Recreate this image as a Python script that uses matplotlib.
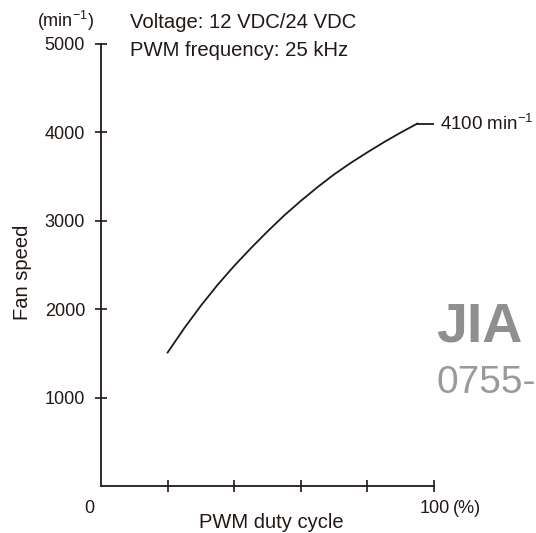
import matplotlib
matplotlib.use("Agg")
import matplotlib.pyplot as plt

# fan speed vs PWM duty cycle
duty = [20, 25, 30, 35, 40, 45, 50, 55, 60, 65, 70, 75, 80, 85, 90, 95]
speed = [1510, 1785, 2040, 2275, 2490, 2690, 2880, 3060, 3225, 3380, 3525, 3655,
         3775, 3890, 3998, 4100]
max_speed = 4100

y_ticks = [1000, 2000, 3000, 4000, 5000]
x_ticks = [20, 40, 60, 80, 100]

ink = "#231815"
sans = ["Liberation Sans", "DejaVu Sans"]

plt.rcParams["font.family"] = sans
plt.rcParams["mathtext.fontset"] = "custom"
plt.rcParams["mathtext.rm"] = "Liberation Sans"
plt.rcParams["mathtext.it"] = "Liberation Sans"

W, H = 536, 533
fig = plt.figure(figsize=(W / 100, H / 100), dpi=100)
ax = fig.add_axes([101 / W, 1 - 486 / H, 333 / W, 442 / H])

ax.plot(duty, speed, color=ink, lw=1.3, solid_joinstyle="round")
# leader line to the max-speed label
ax.plot([duty[-1], 100], [max_speed, max_speed], color=ink, lw=1.3)
ax.text(101.9, max_speed, f"{max_speed} min$^{{-1}}$", fontsize=13.5, color=ink,
        va="center", ha="left", clip_on=False)

ax.set_xlim(0, 100)
ax.set_ylim(0, 5000)
for s in ["top", "right"]:
    ax.spines[s].set_visible(False)
for s in ["left", "bottom"]:
    ax.spines[s].set_color(ink)
    ax.spines[s].set_linewidth(1.3)

ax.set_yticks(y_ticks)
ax.set_yticklabels([str(v) for v in y_ticks], fontsize=13, color=ink)
ax.set_xticks(x_ticks)
ax.set_xticklabels([])
ax.tick_params(axis="both", direction="inout", length=9, width=1.2, color=ink)
ax.tick_params(axis="y", pad=7)

# axis end labels
ax.text(-3.6, -260, "0", fontsize=13, color=ink, ha="center", va="center",
        clip_on=False)
ax.text(100.2, -260, "100", fontsize=13, color=ink, ha="center", va="center",
        clip_on=False)
ax.text(105.7, -260, "(%)", fontsize=13, color=ink, ha="left", va="center",
        clip_on=False)
ax.text(-10.8, 5265, "(min$^{-1}$)", fontsize=13, color=ink, ha="center",
        va="center", clip_on=False)

fig.text(271 / W, 1 - 513 / H, "PWM duty cycle", fontsize=14.5, color=ink,
         ha="center", va="top")
fig.text(23 / W, 1 - 272 / H, "Fan speed", fontsize=14.5, color=ink, rotation=90,
         ha="center", va="center")

fig.text(130 / W, 1 - 23 / H, "Voltage: 12 VDC/24 VDC", fontsize=14.6,
         color=ink, va="center", ha="left")
fig.text(130 / W, 1 - 51 / H, "PWM frequency: 25 kHz", fontsize=14.6,
         color=ink, va="center", ha="left")

# distributor watermark
fig.text(436 / W, 1 - 327 / H, "JIA", fontsize=40, weight="bold",
         color="#8f8f8f", va="center", ha="left")
fig.text(436 / W, 1 - 383 / H, "0755-", fontsize=28,
         color="#9a9a9a", va="center", ha="left")

fig.savefig("out.png", dpi=100)
